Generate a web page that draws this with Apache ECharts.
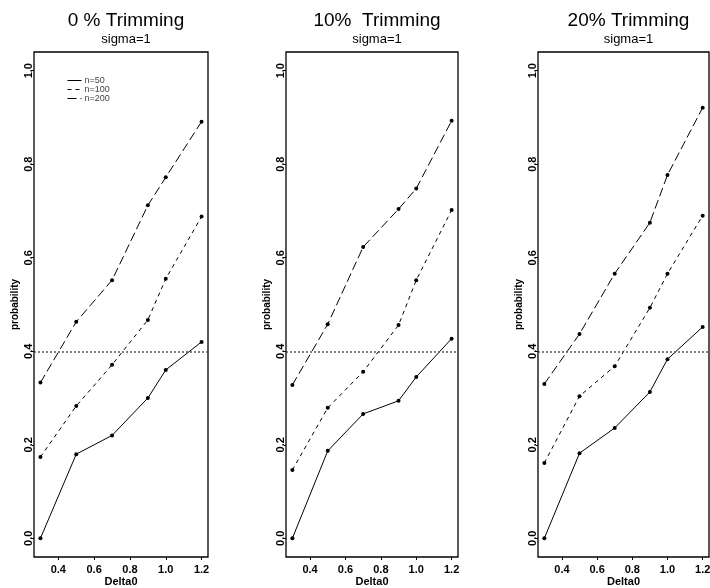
<!DOCTYPE html>
<html>
<head>
<meta charset="utf-8">
<script src="https://cdn.jsdelivr.net/npm/echarts@6/dist/echarts.min.js"></script>
<style>html,body{margin:0;padding:0;background:#fff}#c{width:710px;height:588px}</style>
</head>
<body>
<div id="c"></div>
<script>
const xValues = [0.3, 0.5, 0.7, 0.9, 1.0, 1.2];
const xTicks = [0.4, 0.6, 0.8, 1.0, 1.2];
const yTicks = [0.0, 0.2, 0.4, 0.6, 0.8, 1.0];
const panelTitles = ['0 % Trimming', '10%  Trimming', '20% Trimming'];
const panelSubtitle = 'sigma=1';
const seriesNames = ['n=50', 'n=100', 'n=200'];
const refLine = 0.4;

const p1_n50  = [0.0, 0.18, 0.22, 0.30, 0.36, 0.42];
const p1_n100 = [0.174, 0.283, 0.371, 0.467, 0.555, 0.688];
const p1_n200 = [0.333, 0.463, 0.552, 0.712, 0.772, 0.891];

const p2_n50  = [0.0, 0.187, 0.266, 0.294, 0.345, 0.427];
const p2_n100 = [0.146, 0.279, 0.356, 0.456, 0.552, 0.702];
const p2_n200 = [0.328, 0.458, 0.623, 0.704, 0.748, 0.893];

const p3_n50  = [0.0, 0.182, 0.236, 0.313, 0.383, 0.452];
const p3_n100 = [0.161, 0.304, 0.368, 0.493, 0.566, 0.690];
const p3_n200 = [0.330, 0.437, 0.566, 0.675, 0.777, 0.921];

const panels = [
  [p1_n50, p1_n100, p1_n200],
  [p2_n50, p2_n100, p2_n200],
  [p3_n50, p3_n100, p3_n200]
];

const FONT = "'Liberation Sans', Arial, Helvetica, sans-serif";
const gridBoxes = [
  {left: 34, width: 174},
  {left: 286, width: 172},
  {left: 538, width: 171}
];
const dashTypes = ['solid', [4, 4], [9, 4]];

const grids = [], xAxes = [], yAxes = [], series = [], titles = [];
gridBoxes.forEach((g, i) => {
  grids.push({left: g.left, width: g.width, top: 52, bottom: 31, show: true,
    outerBoundsMode: 'none', containLabel: false,
    borderColor: '#000', borderWidth: 1.3, backgroundColor: 'transparent'});
  const cx = g.left + g.width / 2;
  titles.push({text: panelTitles[i], left: cx, top: 6, textAlign: 'center',
    textStyle: {fontFamily: FONT, fontSize: 19, fontWeight: 'normal', color: '#000'}});
  titles.push({text: panelSubtitle, left: cx, top: 28, textAlign: 'center',
    textStyle: {fontFamily: FONT, fontSize: 13, fontWeight: 'normal', color: '#000'}});
  xAxes.push({type: 'value', gridIndex: i, min: 0.264, max: 1.236, position: 'bottom',
    name: 'Delta0', nameLocation: 'middle', nameGap: 19, nameMoveOverlap: false,
    nameTextStyle: {fontFamily: FONT, fontSize: 11, fontWeight: 'bold', color: '#000'},
    axisLine: {show: false, onZero: false}, splitLine: {show: false},
    axisTick: {show: true, inside: false, length: 3, customValues: xTicks, lineStyle: {color: '#000'}},
    axisLabel: {customValues: xTicks, margin: 7, formatter: v => v.toFixed(1),
      fontFamily: FONT, fontSize: 11, fontWeight: 'bold', color: '#000'}});
  yAxes.push({type: 'value', gridIndex: i, min: -0.04, max: 1.04, position: 'left',
    name: 'probability', nameLocation: 'middle', nameGap: 14, nameRotate: 90, nameMoveOverlap: false,
    nameTextStyle: {fontFamily: FONT, fontSize: 10, fontWeight: 'bold', color: '#000'},
    axisLine: {show: false, onZero: false}, splitLine: {show: false},
    axisTick: {show: true, inside: false, length: 2, customValues: yTicks, lineStyle: {color: '#000'}},
    axisLabel: {customValues: yTicks, rotate: 90, margin: 0, formatter: v => v.toFixed(1),
      fontFamily: FONT, fontSize: 11, fontWeight: 'bold', color: '#000'}});
  panels[i].forEach((vals, k) => {
    const s = {
      type: 'line', name: seriesNames[k], xAxisIndex: i, yAxisIndex: i,
      data: xValues.map((x, j) => [x, vals[j]]),
      symbol: 'circle', symbolSize: 4, showSymbol: true,
      itemStyle: {color: '#000'},
      lineStyle: {color: '#000', width: 1, type: dashTypes[k]},
      animation: false, silent: true
    };
    if (k === 0) {
      s.markLine = {silent: true, symbol: 'none', label: {show: false},
        lineStyle: {color: '#555', type: [2, 2], width: 1.5},
        data: [{yAxis: refLine}]};
    }
    series.push(s);
  });
});

const chart = echarts.init(document.getElementById('c'), null, {renderer: 'canvas'});
chart.setOption({
  animation: false,
  backgroundColor: '#fff',
  title: titles,
  grid: grids,
  xAxis: xAxes,
  yAxis: yAxes,
  legend: {
    data: seriesNames, left: 62, top: 71, orient: 'vertical',
    itemWidth: 14, itemHeight: 6, itemGap: 0,
    itemStyle: {opacity: 0},
    lineStyle: {width: 1},
    textStyle: {fontFamily: FONT, fontSize: 9, color: '#444', lineHeight: 6, padding: [0, 0, 0, -2]},
    selectedMode: false
  },
  series: series
});
</script>
</body>
</html>
